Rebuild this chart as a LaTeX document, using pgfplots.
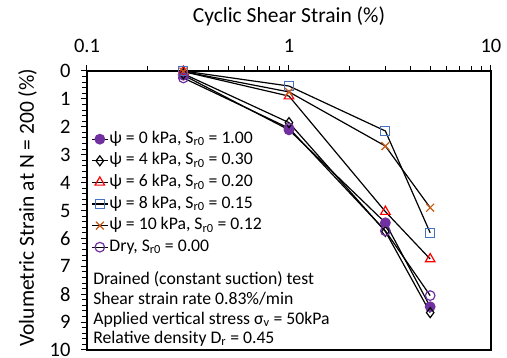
\documentclass[border=0pt]{standalone}
\usepackage{fontspec}
\setmainfont{Carlito}
\usepackage{pgfplots}
\pgfplotsset{compat=1.18}
\definecolor{cpurple}{HTML}{7030A0}
\definecolor{cred}{HTML}{FF0000}
\definecolor{cblue}{HTML}{4472C4}
\definecolor{corange}{HTML}{C65911}
\newcommand{\legfont}{\fontsize{17.7}{21}\selectfont}
\begin{document}
\begin{tikzpicture}
% overlay axis for the top (log) x ticks and title
\begin{axis}[
  at={(0,0)}, anchor=south west,
  scale only axis, width=404pt, height=279pt,
  xmode=log, xmin=0.1, xmax=10,
  ymin=0, ymax=1, ytick=\empty,
  xtick={0.1,1,10}, xticklabels={0.1,1,10},
  minor xtick={0.2,0.3,0.4,0.5,0.6,0.7,0.8,0.9,2,3,4,5,6,7,8,9},
  xtick pos=right, xticklabel pos=right,
  tick align=outside,
  major tick length=6pt, minor tick length=5pt,
  axis line style={line width=1.4pt},
  every tick/.style={black, line width=1pt},
  /pgf/number format/assume math mode=true,
  ticklabel style={font=\fontsize{20.5}{24}\selectfont},
  xticklabel style={yshift=9pt},
  xlabel={Cyclic Shear Strain (\%)},
  label style={font=\fontsize{21.5}{25}\selectfont},
  xlabel style={at={(rel axis cs:0.5,1.197)}, anchor=center},
]
\end{axis}
\begin{axis}[
  at={(0,0)}, anchor=south west,
  scale only axis, width=404pt, height=279pt,
  xmode=log, xmin=0.1, xmax=10,
  ymin=0, ymax=10, y dir=reverse,
  xtick=\empty,
  ytick={0,1,...,10},
  minor y tick num=4,
  ytick pos=left,
  tick align=outside,
  major tick length=6pt, minor tick length=5pt,
  axis line style={line width=1.4pt},
  every tick/.style={black, line width=1pt},
  /pgf/number format/assume math mode=true,
  ticklabel style={font=\fontsize{20.5}{24}\selectfont},
  yticklabel style={xshift=-7pt},
  ylabel={Volumetric Strain at N = 200 (\%)},
  label style={font=\fontsize{21.5}{25}\selectfont},
  ylabel style={at={(rel axis cs:-0.147,0.51)}, anchor=center},
  legend cell align=left,
  legend style={at={(rel axis cs:0.01,0.795)}, anchor=north west, draw=none, fill=none,
    font=\legfont, row sep=0pt, inner sep=0pt,
    nodes={inner sep=1pt, text height=14pt, text depth=5.6pt}},
  legend image code/.code={\draw[#1, mark repeat=2, mark phase=2] plot coordinates {(0pt,0pt) (8pt,0pt) (16pt,0pt)};},
  every axis plot/.append style={black, line width=1.2pt},
  clip=false,
]
\addplot[mark=*, mark size=4.8pt, mark options={fill=cpurple, draw=cpurple}] coordinates {(0.3,0.15) (1,2.11) (3,5.44) (5,8.45)};
\addlegendentry{ψ = 0 kPa, S\textsubscript{r0} = 1.00}
\addplot[mark=diamond, mark size=5pt, mark options={draw=black, fill=white}] coordinates {(0.3,0.1) (1,1.85) (3,5.75) (5,8.66)};
\addlegendentry{ψ = 4 kPa, S\textsubscript{r0} = 0.30}
\addplot[mark=triangle, mark size=5.5pt, mark options={draw=cred, fill=none}] coordinates {(0.3,0.02) (1,0.9) (3,5.04) (5,6.74)};
\addlegendentry{ψ = 6 kPa, S\textsubscript{r0} = 0.20}
\addplot[mark=square, mark size=4.5pt, mark options={draw=cblue, fill=none}] coordinates {(0.3,0.0) (1,0.54) (3,2.15) (5,5.8)};
\addlegendentry{ψ = 8 kPa, S\textsubscript{r0} = 0.15}
\addplot[mark=x, mark size=5.5pt, mark options={draw=corange}] coordinates {(0.3,0.02) (1,0.75) (3,2.69) (5,4.9)};
\addlegendentry{ψ = 10 kPa, S\textsubscript{r0} = 0.12}
\addplot[mark=o, mark size=4.8pt, mark options={draw=cpurple, fill=none}] coordinates {(0.3,0.25) (1,2.05) (3,5.73) (5,8.05)};
\addlegendentry{Dry, S\textsubscript{r0} = 0.00}
\node[anchor=base west, font=\legfont, inner sep=0pt] at (rel axis cs:0.015,0.235) {Drained (constant suction) test};
\node[anchor=base west, font=\legfont, inner sep=0pt] at (rel axis cs:0.015,0.162) {Shear strain rate 0.83\%/min};
\node[anchor=base west, font=\legfont, inner sep=0pt] at (rel axis cs:0.015,0.093) {Applied vertical stress σ\textsubscript{v} = 50kPa};
\node[anchor=base west, font=\legfont, inner sep=0pt] at (rel axis cs:0.015,0.025) {Relative density D\textsubscript{r} = 0.45};
\end{axis}
\pgfresetboundingbox
\path[use as bounding box] (-87pt,-8pt) rectangle (420pt,350pt);
\end{tikzpicture}
\end{document}
